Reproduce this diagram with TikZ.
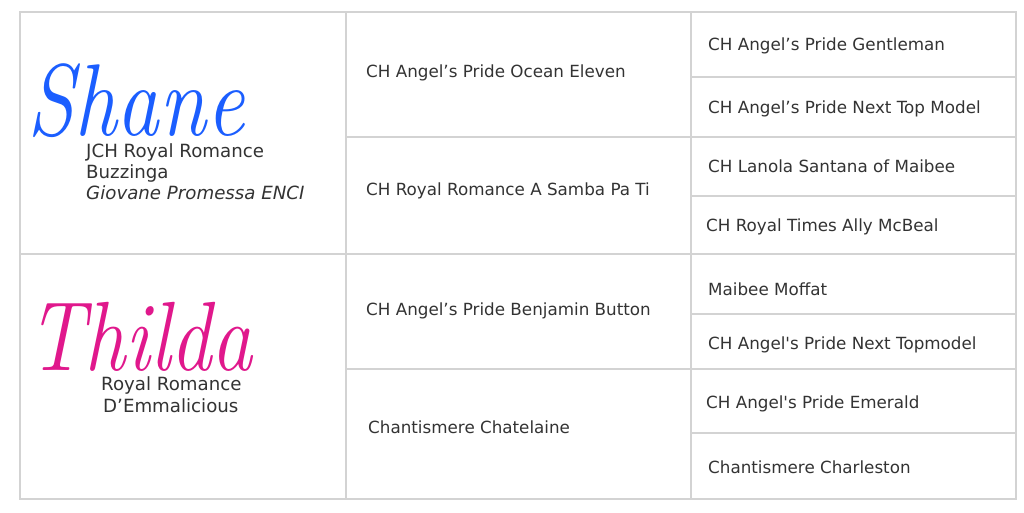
\documentclass[tikz,border=0pt]{standalone}
\usepackage{fontspec}
\newfontfamily\vf{DejaVu Sans}
\definecolor{grid}{HTML}{D3D3D3}
\definecolor{txt}{HTML}{333333}
\definecolor{shaneblue}{HTML}{1B5EFF}
\definecolor{thildapink}{HTML}{E0188C}
\tikzset{
  cell/.style={anchor=west, inner sep=0pt, text height=12pt, text depth=0pt, font=\vf\fontsize{16.75}{19}\selectfont, text=txt},
  side/.style={anchor=west, inner sep=0pt, text height=12.5pt, text depth=0pt, font=\vf\fontsize{18.2}{20}\selectfont, text=txt},
  sidei/.style={side, font=\vf\itshape\fontsize{18.2}{20}\selectfont},
  scriptname/.style={anchor=base, inner sep=0pt, text depth=0pt, yscale=1.2, transform shape},
  gridline/.style={draw=grid, line width=1.3pt}
}
\begin{document}
\begin{tikzpicture}[x=1pt,y=-1pt]
\useasboundingbox (0,0) rectangle (1024,512);
\fill[white] (0,0) rectangle (1024,512);
% grid
\draw[gridline] (20,12) rectangle (1016,499);
\draw[gridline] (346,12) -- (346,499);
\draw[gridline] (691,12) -- (691,499);
\draw[gridline] (20,254) -- (1016,254);
\draw[gridline] (346,137) -- (1016,137);
\draw[gridline] (346,369) -- (1016,369);
\foreach \yy in {77,196,314,433} \draw[gridline] (691,\yy) -- (1016,\yy);
% left column
\node[scriptname, text=shaneblue, font=\rmfamily\itshape\fontsize{85}{85}\selectfont] (shane) at (136,135) {Shane};
\node[side] (s1) at (86,151) {JCH Royal Romance};
\node[side] (s2) at (86,172) {Buzzinga};
\node[sidei] (s3) at (86,193) {Giovane Promessa ENCI};
\node[scriptname, text=thildapink, font=\rmfamily\itshape\fontsize{82}{82}\selectfont] (thilda) at (140,370) {Thilda};
\node[side] (t1) at (101,384) {Royal Romance};
\node[side] (t2) at (103,406) {D’Emmalicious};
% column 2
\node[cell] (p1) at (366,71) {CH Angel’s Pride Ocean Eleven};
\node[cell] (p2) at (366,189) {CH Royal Romance A Samba Pa Ti};
\node[cell] (p3) at (366,309) {CH Angel’s Pride Benjamin Button};
\node[cell] (p4) at (368,427) {Chantismere Chatelaine};
% column 3
\node[cell] (g1) at (708,44) {CH Angel’s Pride Gentleman};
\node[cell] (g2) at (708,107) {CH Angel’s Pride Next Top Model};
\node[cell] (g3) at (708,166) {CH Lanola Santana of Maibee};
\node[cell] (g4) at (706,225) {CH Royal Times Ally McBeal};
\node[cell] (g5) at (708,289) {Maibee Moffat};
\node[cell] (g6) at (708,343) {CH Angel\textquotesingle s Pride Next Topmodel};
\node[cell] (g7) at (706,402) {CH Angel\textquotesingle s Pride Emerald};
\node[cell] (g8) at (708,467) {Chantismere Charleston};
\end{tikzpicture}
\end{document}
